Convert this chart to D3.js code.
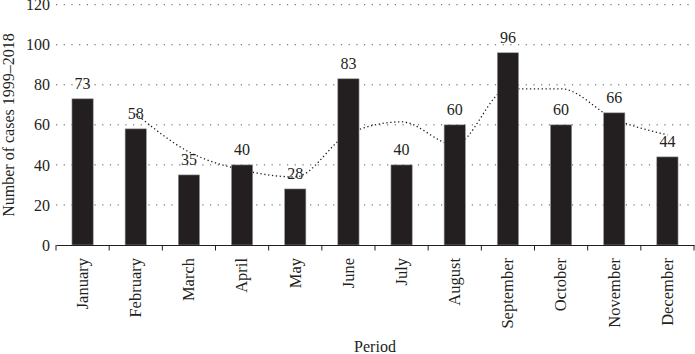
<!DOCTYPE html>
<html lang="en">
<head>
<meta charset="utf-8">
<script src="https://d3js.org/d3.v7.min.js"></script>
<style>
  body { margin: 0; background: #fff; }
  svg text { font-family: 'Liberation Serif', 'DejaVu Serif', serif; fill: #231f20; }
  .grid line { stroke: #555; stroke-width: 1; stroke-dasharray: 1.2,6.5; }
</style>
</head>
<body>
<div id="chart"></div>
<script>
// data
var months = ["January", "February", "March", "April", "May", "June",
              "July", "August", "September", "October", "November", "December"];
var cases = [73, 58, 35, 40, 28, 83, 40, 60, 96, 60, 66, 44];
// dotted trend (2-month moving average), starts at February
var trendMonths = months.slice(1);
var trend = [65.5, 46.5, 37.5, 34, 55.5, 61.5, 50, 78, 78, 63, 55];
var yTicks = [0, 20, 40, 60, 80, 100, 120];

(function() {
  var width = 695,
      height = 354;
  var margin = {top: 4.7, right: 1, bottom: 109, left: 56};
  var w = width - margin.left - margin.right,
      h = height - margin.top - margin.bottom;

  var svg = d3.select("#chart").append("svg")
      .attr("width", width)
      .attr("height", height);
  var g = svg.append("g")
      .attr("transform", "translate(" + margin.left + "," + margin.top + ")");

  var x = d3.scaleBand()
      .domain(months)
      .range([0, w])
      .paddingInner(0.6)
      .paddingOuter(0.3);
  var y = d3.scaleLinear()
      .domain([0, 120])
      .range([h, 0]);

  // dotted gridlines
  g.append("g")
      .attr("class", "grid")
    .selectAll("line")
    .data(yTicks.slice(1))
    .enter().append("line")
      .attr("x1", 0)
      .attr("x2", w)
      .attr("y1", function(d) { return y(d); })
      .attr("y2", function(d) { return y(d); });

  // y tick labels (no axis line)
  var yAxis = g.append("g")
      .call(d3.axisLeft(y).tickValues(yTicks).tickSize(0).tickPadding(6));
  yAxis.select(".domain").remove();
  yAxis.selectAll("text")
      .attr("font-size", 16)
      .attr("font-family", "'Liberation Serif', serif")
      .attr("fill", "#231f20");

  // trend line, behind the bars
  var line = d3.line()
      .x(function(d, i) { return x(trendMonths[i]) + x.bandwidth() / 2; })
      .y(function(d) { return y(d); })
      .curve(d3.curveMonotoneX);
  g.append("path")
      .datum(trend)
      .attr("fill", "none")
      .attr("stroke", "#231f20")
      .attr("stroke-width", 1.3)
      .attr("stroke-dasharray", "1.3,2.6")
      .attr("d", line);

  // bars
  g.append("g")
    .selectAll("rect")
    .data(cases)
    .enter().append("rect")
      .attr("x", function(d, i) { return x(months[i]); })
      .attr("y", function(d) { return y(d); })
      .attr("width", x.bandwidth())
      .attr("height", function(d) { return h - y(d); })
      .attr("fill", "#231f20")
      .attr("stroke", "#9a9a9a")
      .attr("stroke-width", 0.6);

  // value labels
  g.append("g")
    .selectAll("text")
    .data(cases)
    .enter().append("text")
      .attr("x", function(d, i) { return x(months[i]) + x.bandwidth() / 2; })
      .attr("y", function(d) { return y(d) - 10; })
      .attr("text-anchor", "middle")
      .attr("font-size", 16)
      .text(function(d) { return d; });

  // x axis
  var xAxis = d3.scaleBand().domain(months).range([0, w]);
  var xa = g.append("g")
      .attr("transform", "translate(0," + h + ")")
      .call(d3.axisBottom(xAxis).tickSize(0).tickPadding(0));
  xa.select(".domain").attr("stroke", "#231f20").attr("stroke-width", 1.2);
  xa.selectAll(".tick line").remove();
  // category boundary ticks
  xa.append("g")
    .selectAll("line")
    .data(months.concat(["end"]))
    .enter().append("line")
      .attr("x1", function(d, i) { return i * xAxis.step(); })
      .attr("x2", function(d, i) { return i * xAxis.step(); })
      .attr("y1", 0)
      .attr("y2", 5.5)
      .attr("stroke", "#231f20")
      .attr("stroke-width", 1);
  xa.selectAll(".tick text")
      .attr("font-size", 16.5)
      .attr("font-family", "'Liberation Serif', serif")
      .attr("fill", "#231f20")
      .attr("transform", "rotate(-90)")
      .attr("text-anchor", "end")
      .attr("x", -13)
      .attr("y", 0)
      .attr("dy", "0.32em");

  // axis titles
  svg.append("text")
      .attr("x", margin.left + w / 2)
      .attr("y", 352)
      .attr("text-anchor", "middle")
      .attr("font-size", 16)
      .text("Period");
  svg.append("text")
      .attr("transform", "translate(14,125) rotate(-90)")
      .attr("text-anchor", "middle")
      .attr("font-size", 16)
      .text("Number of cases 1999–2018");
})();
</script>
</body>
</html>
